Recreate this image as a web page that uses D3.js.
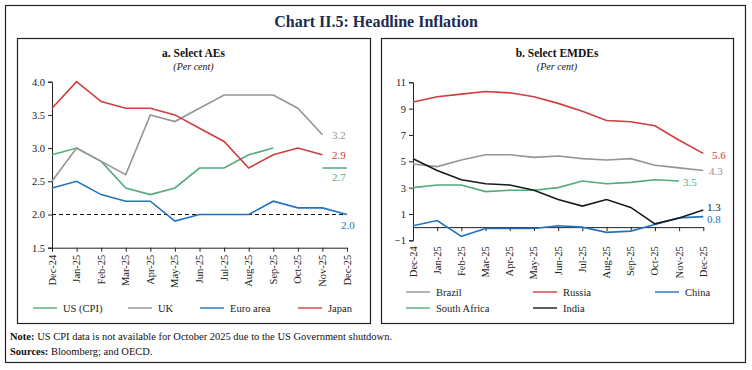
<!DOCTYPE html>
<html>
<head>
<meta charset="utf-8">
<script src="https://cdn.jsdelivr.net/npm/d3@7/dist/d3.min.js"></script>
<style>
  html, body { margin: 0; padding: 0; background: #fff; }
  svg { display: block; font-family: "Liberation Serif", "DejaVu Serif", serif; }
</style>
</head>
<body>
<div id="chart"></div>
<script>
// months on the x axis (both panels)
const months = ['Dec-24', 'Jan-25', 'Feb-25', 'Mar-25', 'Apr-25', 'May-25', 'Jun-25',
  'Jul-25', 'Aug-25', 'Sep-25', 'Oct-25', 'Nov-25', 'Dec-25'];

// panel a: select AEs (per cent)
const usCpi = [2.9, 3.0, 2.8, 2.4, 2.3, 2.4, 2.7, 2.7, 2.9, 3.0, null, 2.7, 2.7];
const uk = [2.5, 3.0, 2.8, 2.6, 3.5, 3.4, 3.6, 3.8, 3.8, 3.8, 3.6, 3.2, null];
const euroArea = [2.4, 2.5, 2.3, 2.2, 2.2, 1.9, 2.0, 2.0, 2.0, 2.2, 2.1, 2.1, 2.0];
const japan = [3.6, 4.0, 3.7, 3.6, 3.6, 3.5, 3.3, 3.1, 2.7, 2.9, 3.0, 2.9, null];
const aeTicks = [1.5, 2.0, 2.5, 3.0, 3.5, 4.0];
const aeTarget = 2.0;

// panel b: select EMDEs (per cent)
const brazil = [4.8, 4.6, 5.1, 5.5, 5.5, 5.3, 5.4, 5.2, 5.1, 5.2, 4.7, 4.5, 4.3];
const russia = [9.5, 9.9, 10.1, 10.3, 10.2, 9.9, 9.4, 8.8, 8.1, 8.0, 7.7, 6.6, 5.6];
const china = [0.1, 0.5, -0.7, -0.1, -0.1, -0.1, 0.1, 0.0, -0.4, -0.3, 0.2, 0.7, 0.8];
const southAfrica = [3.0, 3.2, 3.2, 2.7, 2.8, 2.8, 3.0, 3.5, 3.3, 3.4, 3.6, 3.5, null];
const india = [5.2, 4.3, 3.6, 3.3, 3.2, 2.8, 2.1, 1.6, 2.1, 1.5, 0.25, 0.7, 1.3];
const emdeTicks = [-1, 1, 3, 5, 7, 9, 11];

const colors = {
  green: '#52ab7c',
  gray: '#959595',
  blue: '#2372c0',
  red: '#d23c3c',
  black: '#1a1a1a'
};

const W = 752, H = 370;
const svg = d3.select('#chart').append('svg').attr('width', W).attr('height', H);

// frames
svg.append('rect').attr('x', 5.5).attr('y', 5.5).attr('width', 740).attr('height', 357)
  .attr('fill', 'none').attr('stroke', '#222').attr('stroke-width', 1.2);
svg.append('rect').attr('x', 17.5).attr('y', 38.5).attr('width', 353).attr('height', 285)
  .attr('fill', 'none').attr('stroke', '#222').attr('stroke-width', 1.2);
svg.append('rect').attr('x', 381.5).attr('y', 38.5).attr('width', 352).attr('height', 285)
  .attr('fill', 'none').attr('stroke', '#222').attr('stroke-width', 1.2);

svg.append('text').attr('x', 376).attr('y', 27).attr('text-anchor', 'middle')
  .attr('font-size', 16).attr('font-weight', 'bold').attr('fill', '#1d2b4f')
  .text('Chart II.5: Headline Inflation');

// notes
const note = svg.append('text').attr('x', 10).attr('y', 340).attr('font-size', 10.5).attr('fill', '#111');
note.append('tspan').attr('font-weight', 'bold').text('Note:');
note.append('tspan').text(' US CPI data is not available for October 2025 due to the US Government shutdown.');
const src = svg.append('text').attr('x', 10).attr('y', 355).attr('font-size', 10.5).attr('fill', '#111');
src.append('tspan').attr('font-weight', 'bold').text('Sources:');
src.append('tspan').text(' Bloomberg; and OECD.');

function panelTitle(cx, title) {
  svg.append('text').attr('x', cx).attr('y', 57).attr('text-anchor', 'middle')
    .attr('font-size', 11.5).attr('font-weight', 'bold').attr('fill', '#111').text(title);
  svg.append('text').attr('x', cx).attr('y', 70).attr('text-anchor', 'middle')
    .attr('font-size', 10).attr('font-style', 'italic').attr('fill', '#111').text('(Per cent)');
}

function drawPanel(cfg) {
  const x = d3.scalePoint().domain(months).range(cfg.xRange);
  const y = d3.scaleLinear().domain(cfg.yDomain).range(cfg.yRange);
  const g = svg.append('g');

  // y axis
  const yAxis = g.append('g').attr('transform', `translate(${cfg.xRange[0]},0)`)
    .call(d3.axisLeft(y).tickValues(cfg.ticks).tickSize(4).tickFormat(cfg.fmt));
  yAxis.select('.domain').attr('stroke', '#222');
  yAxis.selectAll('.tick line').attr('stroke', '#222');
  yAxis.selectAll('.tick text').attr('font-family', 'Liberation Serif, serif')
    .attr('font-size', 10.5).attr('fill', '#222');

  // x axis line at the crossing value
  const xAxis = g.append('g').attr('transform', `translate(0,${y(cfg.xCross)})`)
    .call(d3.axisBottom(x).tickSize(4).tickSizeOuter(0).tickFormat(''));
  xAxis.select('.domain').attr('stroke', '#222');
  xAxis.selectAll('.tick line').attr('stroke', '#222');

  // x tick labels below the plot area
  const labY = cfg.yRange[0] + cfg.labelGap;
  g.selectAll('.mlab').data(months).enter().append('text')
    .attr('transform', d => `translate(${x(d) + 3.5},${labY}) rotate(-90)`)
    .attr('text-anchor', 'end').attr('font-size', 10.5).attr('fill', '#222')
    .text(d => d);

  if (cfg.ref !== undefined) {
    g.append('line').attr('x1', cfg.xRange[0]).attr('x2', cfg.xRange[1])
      .attr('y1', y(cfg.ref)).attr('y2', y(cfg.ref))
      .attr('stroke', '#111').attr('stroke-width', 1.1).attr('stroke-dasharray', '4,3');
  }

  const line = d3.line().defined(d => d.v !== null).x(d => x(d.m)).y(d => y(d.v));
  cfg.series.forEach(s => {
    g.append('path').datum(months.map((m, i) => ({ m, v: s.values[i] })))
      .attr('d', line).attr('fill', 'none').attr('stroke', s.color).attr('stroke-width', 1.6);
  });
  cfg.labels.forEach(l => {
    g.append('text').attr('x', l.x).attr('y', l.y).attr('font-size', 11)
      .attr('fill', l.color).text(l.text);
  });

  // legend
  cfg.legend.forEach(l => {
    g.append('line').attr('x1', l.x).attr('x2', l.x + 24).attr('y1', l.y).attr('y2', l.y)
      .attr('stroke', l.color).attr('stroke-width', 1.4);
    g.append('text').attr('x', l.x + 30).attr('y', l.y + 3.5).attr('font-size', 10.5)
      .attr('fill', '#222').text(l.name);
  });
  return { x, y };
}

panelTitle(193.5, 'a. Select AEs');
panelTitle(557, 'b. Select EMDEs');

drawPanel({
  xRange: [52, 347],
  yDomain: [1.5, 4.0],
  yRange: [247.7, 81.7],
  ticks: aeTicks,
  fmt: d3.format('.1f'),
  xCross: 1.5,
  labelGap: 7,
  ref: aeTarget,
  series: [
    { values: usCpi, color: colors.green },
    { values: uk, color: colors.gray },
    { values: euroArea, color: colors.blue },
    { values: japan, color: colors.red }
  ],
  labels: [
    { text: uk[11].toFixed(1), x: 332, y: 139, color: colors.gray },
    { text: japan[11].toFixed(1), x: 332, y: 159, color: colors.red },
    { text: usCpi[12].toFixed(1), x: 332, y: 181, color: colors.green },
    { text: euroArea[12].toFixed(1), x: 341, y: 229, color: colors.blue }
  ],
  legend: [
    { name: 'US (CPI)', x: 33, y: 308, color: colors.green },
    { name: 'UK', x: 128, y: 308, color: colors.gray },
    { name: 'Euro area', x: 200, y: 308, color: colors.blue },
    { name: 'Japan', x: 298, y: 308, color: colors.red }
  ]
});

drawPanel({
  xRange: [413, 703.3],
  yDomain: [-1, 11],
  yRange: [240.3, 82.3],
  ticks: emdeTicks,
  fmt: d3.format('d'),
  xCross: 0,
  labelGap: 6,
  series: [
    { values: brazil, color: colors.gray },
    { values: russia, color: colors.red },
    { values: china, color: colors.blue },
    { values: southAfrica, color: colors.green },
    { values: india, color: colors.black }
  ],
  labels: [
    { text: russia[12].toFixed(1), x: 712, y: 159, color: colors.red },
    { text: brazil[12].toFixed(1), x: 709, y: 175, color: colors.gray },
    { text: southAfrica[11].toFixed(1), x: 683, y: 186, color: colors.green },
    { text: india[12].toFixed(1), x: 707, y: 211, color: colors.black },
    { text: china[12].toFixed(1), x: 707, y: 223, color: colors.blue }
  ],
  legend: [
    { name: 'Brazil', x: 406, y: 292, color: colors.gray },
    { name: 'Russia', x: 533, y: 292, color: colors.red },
    { name: 'China', x: 655, y: 292, color: colors.blue },
    { name: 'South Africa', x: 406, y: 308, color: colors.green },
    { name: 'India', x: 533, y: 308, color: colors.black }
  ]
});
</script>
</body>
</html>
